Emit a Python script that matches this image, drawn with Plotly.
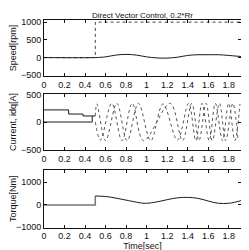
import plotly.graph_objects as go

# ---- data ----
speed_ref_t = [0, 0.5, 0.5, 1.92]
speed_ref_v = [0, 0, 1000, 1000]
speed_t = [0, 0.5, 0.6, 0.7, 0.8, 0.9, 1.0, 1.1, 1.2, 1.3, 1.4, 1.5, 1.6, 1.7, 1.8, 1.92]
speed_v = [0, 0, 20, 70, 90, 70, 20, -10, -15, 10, 60, 80, 80, 80, 60, 30]

id_step_t = [0, 0.24, 0.24, 0.38, 0.38, 0.5]
id_step_v = [220, 220, 145, 145, 110, 110]
iq_step_t = [0, 0.47, 0.47]
iq_step_v = [0, 0, 110]

id_osc_t = [0.5, 0.515, 0.60, 0.71, 0.81, 0.92, 1.04, 1.16, 1.30, 1.41, 1.48, 1.54, 1.61, 1.67, 1.74, 1.80, 1.86, 1.91]
id_osc_v = [110, 330, -340, 340, -340, 340, -340, 330, -330, 340, -340, 340, -340, 340, -340, 340, -340, 330]
iq_osc_t = [0.5, 0.55, 0.66, 0.76, 0.86, 0.97, 1.23, 1.35, 1.44, 1.51, 1.58, 1.64, 1.71, 1.77, 1.84, 1.89]
iq_osc_v = [0, -330, 340, -340, 340, -340, 340, -340, 340, -340, 340, -340, 340, -340, 340, -300]

torque_pre_t = [0, 0.5, 0.5]
torque_pre_v = [-20, -20, 380]
torque_t = [0.5, 0.6, 0.7, 0.8, 0.9, 0.95, 1.0, 1.1, 1.2, 1.3, 1.4, 1.5, 1.6, 1.7, 1.8, 1.9, 1.92]
torque_v = [380, 360, 290, 200, 110, 70, 60, 120, 220, 300, 320, 280, 160, 60, 60, 150, 180]

x_ticks = [0, 0.2, 0.4, 0.6, 0.8, 1.0, 1.2, 1.4, 1.6, 1.8]
x_tick_labels = ["0", "0.2", "0.4", "0.6", "0.8", "1", "1.2", "1.4", "1.6", "1.8"]

title = "Direct Vector Control, 0.2*Rr"

# ---- figure ----
fig = go.Figure()
C = "#1a1a1a"

fig.add_trace(go.Scatter(x=speed_ref_t, y=speed_ref_v, mode="lines",
                         line=dict(color="#444", width=1, dash="dot"), xaxis="x", yaxis="y"))
fig.add_trace(go.Scatter(x=speed_t, y=speed_v, mode="lines", line_shape="spline",
                         line=dict(color=C, width=1), xaxis="x", yaxis="y"))

fig.add_trace(go.Scatter(x=id_step_t, y=id_step_v, mode="lines",
                         line=dict(color=C, width=1), xaxis="x2", yaxis="y2"))
fig.add_trace(go.Scatter(x=iq_step_t, y=iq_step_v, mode="lines",
                         line=dict(color=C, width=1), xaxis="x2", yaxis="y2"))
fig.add_trace(go.Scatter(x=id_osc_t, y=id_osc_v, mode="lines", line_shape="spline",
                         line=dict(color="#555", width=1, dash="dot"), xaxis="x2", yaxis="y2"))
fig.add_trace(go.Scatter(x=iq_osc_t, y=iq_osc_v, mode="lines", line_shape="spline",
                         line=dict(color="#555", width=1, dash="dot"), xaxis="x2", yaxis="y2"))

fig.add_trace(go.Scatter(x=torque_pre_t, y=torque_pre_v, mode="lines",
                         line=dict(color="#777", width=1.5), xaxis="x3", yaxis="y3"))
fig.add_trace(go.Scatter(x=torque_t, y=torque_v, mode="lines", line_shape="spline",
                         line=dict(color=C, width=1), xaxis="x3", yaxis="y3"))

W, H = 249, 250
OX, OY = 8, 8  # page body margin offset

def px_x(v):
    return (v - OX) / W

def px_y(v):
    return 1 - (v - OY) / H

xdom = [px_x(44), px_x(241)]
font = dict(family="Liberation Sans, Arial, sans-serif", size=9, color="#111")

def xax(anchor, title=None):
    d = dict(domain=xdom, anchor=anchor, range=[0, 1.92], tickvals=x_ticks, ticktext=x_tick_labels,
             ticks="inside", ticklen=3, tickcolor="#111", showline=True, linecolor="#111", linewidth=1,
             mirror="ticks", showgrid=False, zeroline=False, tickfont=font, automargin=False)
    if title:
        d["title"] = dict(text=title, font=font, standoff=1)
    return d

def yax(anchor, dom, rng, tv, title):
    return dict(domain=dom, anchor=anchor, range=rng, tickvals=tv,
                ticks="inside", ticklen=3, tickcolor="#111", showline=True, linecolor="#111", linewidth=1,
                mirror="ticks", showgrid=False, zeroline=False, tickfont=font, automargin=False,
                title=dict(text=title, font=font, standoff=3))

fig.update_layout(
    width=W, height=H, showlegend=False,
    margin=dict(l=0, r=0, t=0, b=0),
    paper_bgcolor="white", plot_bgcolor="white",
    xaxis=xax("y"),
    yaxis=yax("x", [px_y(76), px_y(20)], [-520, 1060], [-500, 0, 500, 1000], "Speed[rpm]"),
    xaxis2=xax("y2"),
    yaxis2=yax("x2", [px_y(150), px_y(94)], [-510, 510], [-500, 0, 500], "Current, idq[A]"),
    xaxis3=xax("y3", "Time[sec]"),
    yaxis3=yax("x3", [px_y(227.5), px_y(170)], [-1010, 1530], [-1000, 0, 1000], "Torque[Nm]"),
    annotations=[dict(text=title, x=px_x(142), y=px_y(8.5), xref="paper", yref="paper",
                      xanchor="center", yanchor="top",
                      showarrow=False, font=dict(family="Liberation Sans, Arial, sans-serif", size=8, color="#111"))],
)

fig.write_html("out.html")
